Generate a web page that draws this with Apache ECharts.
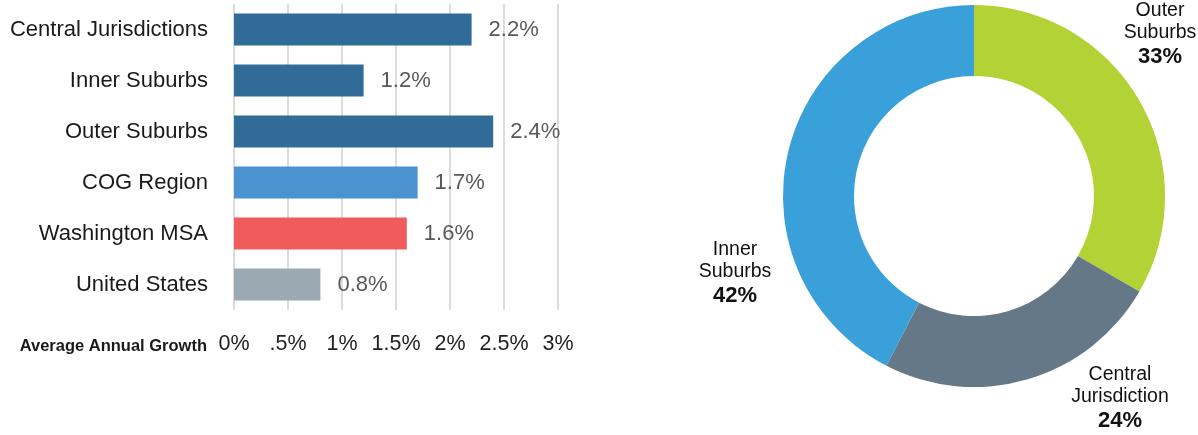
<!DOCTYPE html>
<html>
<head>
<meta charset="utf-8">
<script src="https://cdn.jsdelivr.net/npm/echarts@6/dist/echarts.min.js"></script>
<style>
  html, body { margin: 0; padding: 0; background: #fff; }
  #chart { width: 1198px; height: 435px; }
</style>
</head>
<body>
<div id="chart"></div>
<script>
// Average annual growth by area (percent)
const growthCategories = ['Central Jurisdictions', 'Inner Suburbs', 'Outer Suburbs', 'COG Region', 'Washington MSA', 'United States'];
const growthValues = [2.2, 1.2, 2.4, 1.7, 1.6, 0.8];
const growthColors = ['#316c99', '#316c99', '#316c99', '#4a92d0', '#f05c5c', '#9aa9b2'];
const growthTickLabels = ['0%', '.5%', '1%', '1.5%', '2%', '2.5%', '3%'];

// Share of regional growth by sub-area (percent)
const shareNames = ['Outer Suburbs', 'Central Jurisdiction', 'Inner Suburbs'];
const shareValues = [33, 24, 42];
const shareColors = ['#b2d235', '#647887', '#3aa0da'];
// label anchors for the donut slices
const shareLabelPos = [
  { x: 1160, y: 35 },
  { x: 1120, y: 399 },
  { x: 735, y: 274 }
];

const FONT = '"Liberation Sans", Arial, sans-serif';
const chart = echarts.init(document.getElementById('chart'), null, { renderer: 'canvas' });

chart.setOption({
  animation: false,
  textStyle: { fontFamily: FONT },
  title: {
    text: 'Average Annual Growth',
    right: 1198 - 212,
    top: 333,
    textStyle: { fontSize: 16.5, fontWeight: 'bold', color: '#1a1a1a', fontFamily: FONT }
  },
  grid: { left: 234, top: 4, width: 324, height: 306, containLabel: false },
  xAxis: {
    type: 'value',
    min: 0,
    max: 3,
    interval: 0.5,
    axisLine: { show: false },
    axisTick: { show: false },
    splitLine: { show: true, lineStyle: { color: '#dcdcdc', width: 2 } },
    axisLabel: {
      margin: 23,
      fontSize: 21.5,
      color: '#222',
      fontFamily: FONT,
      formatter: (v) => growthTickLabels[Math.round(v / 0.5)]
    }
  },
  yAxis: {
    type: 'category',
    inverse: true,
    data: growthCategories,
    axisLine: { show: false },
    axisTick: { show: false },
    axisLabel: { margin: 26, fontSize: 22, color: '#1a1a1a', fontFamily: FONT }
  },
  series: [
    {
      type: 'bar',
      barCategoryGap: '37%',
      data: growthValues.map((v, i) => ({ value: v, itemStyle: { color: growthColors[i] } })),
      label: {
        show: true,
        position: 'right',
        distance: 17,
        fontSize: 22,
        color: '#595959',
        fontFamily: FONT,
        formatter: (p) => p.value.toFixed(1) + '%'
      }
    },
    {
      type: 'pie',
      center: [974, 196],
      radius: [120, 191],
      startAngle: 90,
      clockwise: true,
      avoidLabelOverlap: false,
      data: shareNames.map((n, i) => ({ name: n, value: shareValues[i], itemStyle: { color: shareColors[i] } })),
      label: {
        show: true,
        position: 'outside',
        formatter: (p) => '{n|' + p.name.replace(' ', '\n') + '}\n{p|' + p.value + '%}',
        align: 'center',
        rich: {
          n: { fontSize: 19.5, lineHeight: 22, color: '#111', fontFamily: FONT, align: 'center' },
          p: { fontSize: 22, lineHeight: 27, fontWeight: 'bold', color: '#111', fontFamily: FONT, align: 'center' }
        }
      },
      labelLine: { show: false },
      labelLayout: (params) => ({
        x: shareLabelPos[params.dataIndex].x,
        y: shareLabelPos[params.dataIndex].y,
        align: 'center',
        verticalAlign: 'middle',
        hideOverlap: false
      }),
      silent: true
    }
  ]
});
</script>
</body>
</html>
